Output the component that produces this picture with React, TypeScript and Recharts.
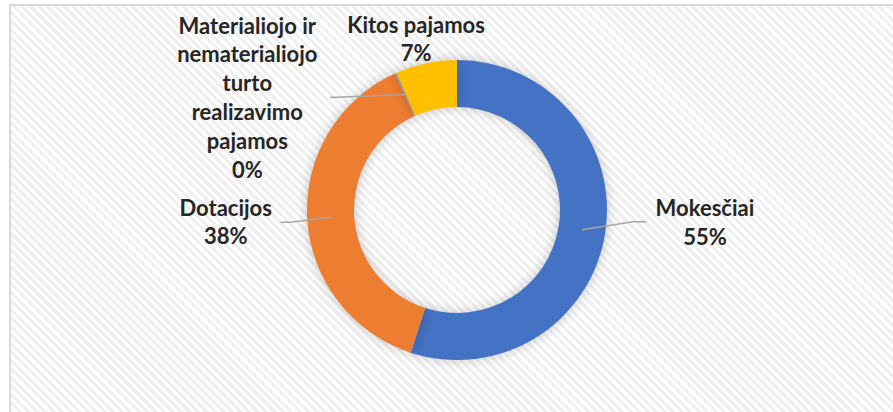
import React from "react";
import { PieChart, Pie, Cell } from "recharts";

const categories = [
  "Mokesčiai",
  "Dotacijos",
  "Materialiojo ir nematerialiojo turto realizavimo pajamos",
  "Kitos pajamos",
];
const values = [55.0, 38.2, 0.2, 6.6];
const percentLabels = ["55%", "38%", "0%", "7%"];
const labelLines = [
  ["Mokesčiai"],
  ["Dotacijos"],
  ["Materialiojo ir", "nematerialiojo", "turto", "realizavimo", "pajamos"],
  ["Kitos pajamos"],
];
const colors = ["#4472C4", "#ED7D31", "#A5A5A5", "#FFC000"];

// label layout config (offsets from the leader anchor on the ring)
const labelLayout = [
  { leader: true, fromOuter: false, elbow: [51, -8], end: [64, -8], text: [123, -14], lh: 29 },
  { leader: true, fromOuter: false, elbow: [-40, 5], end: [-50, 5], text: [-105, -1], lh: 28 },
  { leader: true, fromOuter: false, elbow: [-75, 3], end: [-75, 3], text: [-158, -61], lh: 28.8 },
  { leader: false, fromOuter: true, elbow: [0, 0], end: [0, 0], text: [-10, -30], lh: 28 },
];

const data = categories.map((name, i) => ({ name, value: values[i], pct: percentLabels[i] }));

const RAD = Math.PI / 180;

const renderLabel = (props: any) => {
  const { cx, cy, midAngle, innerRadius, outerRadius, index } = props;
  const lay = labelLayout[index];
  const lines = [...labelLines[index], percentLabels[index]];
  const r = lay.fromOuter ? outerRadius : (innerRadius + outerRadius) / 2;
  const sx = cx + r * Math.cos(midAngle * RAD);
  const sy = cy - r * Math.sin(midAngle * RAD);
  const tx = sx + lay.text[0];
  const ty = sy + lay.text[1];
  return (
    <g key={`lbl-${index}`}>
      {lay.leader && (
        <polyline
          points={`${sx},${sy} ${sx + lay.elbow[0]},${sy + lay.elbow[1]} ${sx + lay.end[0]},${sy + lay.end[1]}`}
          fill="none"
          stroke="#A6A6A6"
          strokeWidth={1.5}
        />
      )}
      <text
        x={tx}
        y={ty}
        textAnchor="middle"
        fill="#262626"
        fontFamily="Lato, sans-serif"
        fontWeight={700}
        fontSize={22}
      >
        {lines.map((l, k) => (
          <tspan key={k} x={tx} dy={k === 0 ? 0 : lay.lh}>
            {l}
          </tspan>
        ))}
      </text>
    </g>
  );
};

export default function App() {
  return (
    <div
      style={{
        position: "absolute",
        left: 0,
        top: 0,
        width: 893,
        height: 412,
        overflow: "hidden",
        background: "#ffffff",
      }}
    >
      <style>{`.donut-shadow .recharts-pie-sector { filter: drop-shadow(0 0 6px rgba(0,0,0,0.22)); }`}</style>
      <div
        style={{
          position: "absolute",
          left: 9,
          top: 4,
          width: 900,
          height: 420,
          border: "2px solid #D9D9D9",
          background:
            "repeating-linear-gradient(45deg, #ffffff 0px, #ffffff 3px, #efefef 3px, #efefef 6px)",
        }}
      />
      <div style={{ position: "absolute", left: 0, top: 0 }}>
        <PieChart width={893} height={412} margin={{ top: 0, right: 0, bottom: 0, left: 0 }}>
          <Pie
            data={data}
            dataKey="value"
            nameKey="name"
            cx={457}
            cy={210}
            innerRadius={103}
            outerRadius={150}
            startAngle={90}
            endAngle={-270}
            stroke="none"
            isAnimationActive={false}
            labelLine={false}
            label={renderLabel}
            className="donut-shadow"
          >
            {data.map((d, i) => (
              <Cell key={d.name} fill={colors[i]} />
            ))}
          </Pie>
        </PieChart>
      </div>
    </div>
  );
}
